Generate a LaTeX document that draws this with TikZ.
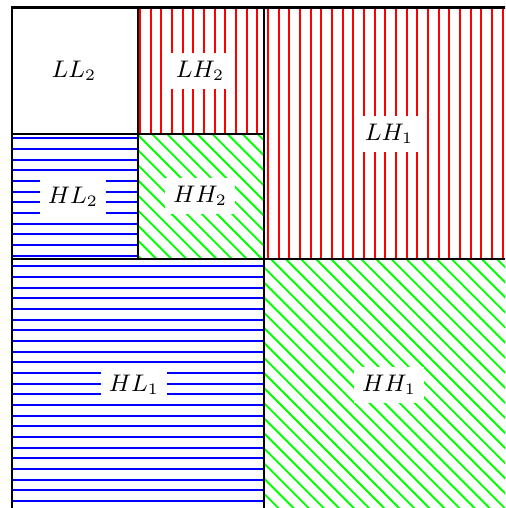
\documentclass[tikz,border=0pt]{standalone}
\begin{document}
\begin{tikzpicture}[x=0.375pt,y=-0.375pt,
  frame/.style={line width=0.8pt,black},
  hatchr/.style={line width=0.7pt,red},
  hatchb/.style={line width=0.7pt,blue},
  hatchg/.style={line width=0.7pt,green},
  lbl/.style={fill=white,inner sep=3pt,font=\fontsize{9}{11}\selectfont}]
\useasboundingbox (0,0) rectangle (505,508);
\clip (0,0) rectangle (505,508);
% red vertical lines: LH2 and LH1
\foreach \k in {0,...,11} \draw[hatchr] (140+10.667*\k,7.5) -- (140+10.667*\k,134);
\foreach \k in {12,...,35} \draw[hatchr] (140+10.667*\k,7.5) -- (140+10.667*\k,259.3);
% blue horizontal lines: HL2 and HL1
\foreach \k in {0,...,11} \draw[hatchb] (12,138.3+10.667*\k) -- (138,138.3+10.667*\k);
\foreach \k in {12,...,35} \draw[hatchb] (12,138.3+10.667*\k) -- (264,138.3+10.667*\k);
% green diagonal lines: HH2
\begin{scope}
\clip (138,134) rectangle (264,259.3);
\foreach \k in {-10,...,10} \draw[hatchg] (3+15.08*\k+110,110) -- (3+15.08*\k+290,290);
\end{scope}
% green diagonal lines: HH1
\begin{scope}
\clip (264,259.3) rectangle (516,511);
\foreach \k in {-18,...,18} \draw[hatchg] (11.7+15.08*\k+240,240) -- (11.7+15.08*\k+530,530);
\end{scope}
% black frames
\draw[frame] (12,7.5) rectangle (516,511);
\draw[frame] (264,7.5) -- (264,511);
\draw[frame] (12,259.3) -- (516,259.3);
\draw[frame] (138,7.5) -- (138,259.3);
\draw[frame] (12,134) -- (264,134);
% labels
\node[lbl] (ll2) at (74,71) {$LL_2$};
\node[lbl] (lh2) at (200,71) {$LH_2$};
\node[lbl] (hl2) at (73,197) {$HL_2$};
\node[lbl] (hh2) at (200,196) {$HH_2$};
\node[lbl] (lh1) at (389,134) {$LH_1$};
\node[lbl] (hl1) at (134,385) {$HL_1$};
\node[lbl] (hh1) at (389,385) {$HH_1$};
\end{tikzpicture}
\end{document}
